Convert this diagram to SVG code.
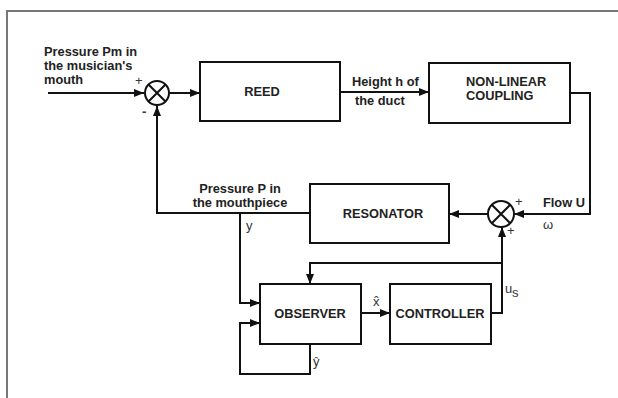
<svg xmlns="http://www.w3.org/2000/svg" width="618" height="398" viewBox="0 0 618 398">
<style>
.box{fill:#fff;stroke:#111;stroke-width:2}
.bl{font-family:"Liberation Sans",Arial,sans-serif;font-weight:bold;font-size:12.8px;fill:#222}
.lab{font-family:"Liberation Sans",Arial,sans-serif;font-size:13px;fill:#333}
.c{fill:none;stroke:#111;stroke-width:2}
.sum{fill:#fff;stroke:#111;stroke-width:2}
</style>
<defs>
<marker id="arr" viewBox="0 0 10 8" refX="10" refY="4" markerWidth="10" markerHeight="8" markerUnits="userSpaceOnUse" orient="auto">
<path d="M0,0 L10,4 L0,8 Z" fill="#111"/>
</marker>
</defs>
<rect x="0" y="0" width="618" height="398" fill="#fff"/>
<path d="M7,398 V11 H618" fill="none" stroke="#777" stroke-width="2"/>

<g id="connectors">
<path class="c" d="M48,93 H144" marker-end="url(#arr)"/>
<path class="c" d="M170,93 H200" marker-end="url(#arr)"/>
<path class="c" d="M340,92 H429" marker-end="url(#arr)"/>
<path class="c" d="M570,93 H590 V214 H514" marker-end="url(#arr)"/>
<path class="c" d="M488,214 H449" marker-end="url(#arr)"/>
<path class="c" d="M310,213 H157 V106" marker-end="url(#arr)"/>
<path class="c" d="M240,213 V303 H260" marker-end="url(#arr)"/>
<path class="c" d="M310,344 V374 H240 V323 H260" marker-end="url(#arr)"/>
<path class="c" d="M361,313 H390" marker-end="url(#arr)"/>
<path class="c" d="M491,313 H502 V227" marker-end="url(#arr)"/>
<path class="c" d="M502,263 H310 V284" marker-end="url(#arr)"/>
</g>

<g id="sum1">
<circle class="sum" cx="157" cy="93" r="12"/>
<path class="c" d="M148.5,84.5 L165.5,101.5 M165.5,84.5 L148.5,101.5"/>
<text class="lab" x="135" y="85" font-size="11">+</text>
<text class="lab" x="142" y="116" font-size="12" font-weight="bold">-</text>
</g>

<g id="sum2">
<circle class="sum" cx="501" cy="214" r="13"/>
<path class="c" d="M491.8,204.8 L510.2,223.2 M510.2,204.8 L491.8,223.2"/>
<text class="lab" x="515" y="206" font-size="11">+</text>
<text class="lab" x="507" y="235" font-size="11">+</text>
</g>

<g id="input-label">
<text class="bl" x="44" y="56">Pressure Pm in</text>
<text class="bl" x="44" y="70">the musician's</text>
<text class="bl" x="44" y="84">mouth</text>
</g>

<g id="reed">
<rect class="box" x="200" y="62" width="140" height="59"/>
<text class="bl" x="262" y="96" text-anchor="middle">REED</text>
</g>

<g id="height-label">
<text class="bl" x="352" y="86">Height h of</text>
<text class="bl" x="355" y="105">the duct</text>
</g>

<g id="coupling">
<rect class="box" x="429" y="63" width="141" height="60"/>
<text class="bl" x="466" y="86">NON-LINEAR</text>
<text class="bl" x="466" y="100">COUPLING</text>
</g>

<g id="flow-label">
<text class="bl" x="543" y="207">Flow U</text>
<text class="lab" x="543" y="229">ω</text>
</g>

<g id="resonator">
<rect class="box" x="310" y="184" width="139" height="59"/>
<text class="bl" x="383" y="218" text-anchor="middle">RESONATOR</text>
</g>

<g id="pressure-label">
<text class="bl" x="240" y="193" text-anchor="middle">Pressure P in</text>
<text class="bl" x="240" y="207" text-anchor="middle">the mouthpiece</text>
<text class="lab" x="246" y="230">y</text>
</g>

<g id="observer">
<rect class="box" x="260" y="284" width="101" height="60"/>
<text class="bl" x="310" y="318" text-anchor="middle">OBSERVER</text>
</g>

<g id="controller">
<rect class="box" x="390" y="284" width="101" height="60"/>
<text class="bl" x="440" y="318" text-anchor="middle">CONTROLLER</text>
</g>

<g id="signal-labels">
<text class="lab" x="373" y="306">x̂</text>
<text class="lab" x="313" y="366">ŷ</text>
<text class="lab" x="505" y="293">u</text>
<text class="lab" x="512" y="297" font-size="6">s</text>
</g>
</svg>
